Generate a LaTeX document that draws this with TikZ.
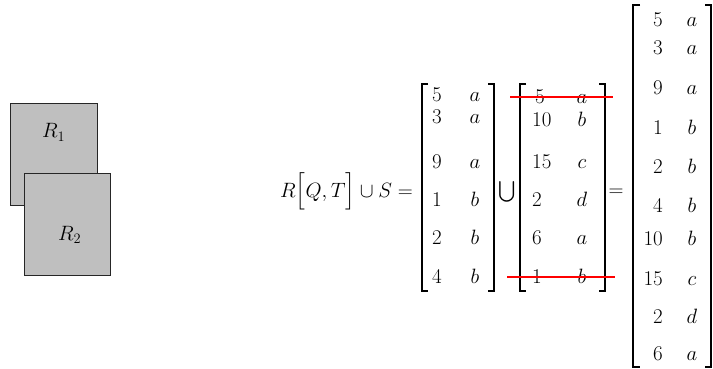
\documentclass[tikz,border=0pt]{standalone}
\usepackage{amsmath}
\begin{document}
\begin{tikzpicture}[x=1pt,y=-1pt,
  ent/.style={inner sep=0pt,anchor=base,font=\fontsize{21}{21}\selectfont},
  numw/.style={ent,anchor=base west},
  nume/.style={ent,anchor=base east},
  brk/.style={line width=1.1pt,black},
  strike/.style={red,line width=1.2pt},
  relbox/.style={draw=black!85,line width=1pt,fill=black!25,inner sep=0pt,anchor=north west}]
\useasboundingbox (0,0) rectangle (713,369);

% relation rectangles
\node[relbox,minimum width=87pt,minimum height=102pt] (r1) at (10,103) {};
\node[ent,anchor=base west] (r1l) at (42,138) {$R_1$};
\node[relbox,minimum width=86pt,minimum height=102pt] (r2) at (24,173) {};
\node[ent,anchor=base west] (r2l) at (58,240) {$R_2$};

% expression
\node[ent,anchor=base east] (expr) at (413,197) {$R\Bigl[Q,T\Bigr]\cup S=$};

% first matrix
\draw[brk] (428,84) -| (422,291) -- (428,291);
\draw[brk] (488,84) -| (494,291) -- (488,291);
\node[numw] (a1) at (432,102) {5};   \node[ent] (b1) at (475,102) {$a$};
\node[numw] (a2) at (432,124) {3};   \node[ent] (b2) at (475,124) {$a$};
\node[numw] (a3) at (432,168) {9};   \node[ent] (b3) at (475,168) {$a$};
\node[numw] (a4) at (432,206) {1};   \node[ent] (b4) at (475,206) {$b$};
\node[numw] (a5) at (432,244) {2};   \node[ent] (b5) at (475,244) {$b$};
\node[numw] (a6) at (432,283) {4};   \node[ent] (b6) at (475,283) {$b$};

% union
\node[ent,anchor=center] (un) at (507,192) {$\bigcup$};

% second matrix
\draw[brk] (526,84) -| (520,291) -- (526,291);
\draw[brk] (599,84) -| (605,291) -- (599,291);
\node[numw] (c1) at (535,103) {5};   \node[ent] (d1) at (582,103) {$a$};
\node[numw] (c2) at (532,127) {10};  \node[ent] (d2) at (582,127) {$b$};
\node[numw] (c3) at (532,168) {15};  \node[ent] (d3) at (582,168) {$c$};
\node[numw] (c4) at (532,206) {2};   \node[ent] (d4) at (582,206) {$d$};
\node[numw] (c5) at (532,244) {6};   \node[ent] (d5) at (582,244) {$a$};
\node[numw] (c6) at (532,283) {1};   \node[ent] (d6) at (582,283) {$b$};
\coordinate (s1a) at (510,97);  \coordinate (s1b) at (613,97);
\coordinate (s2a) at (507,277); \coordinate (s2b) at (615,277);
\draw[strike] (s1a) -- (s1b);
\draw[strike] (s2a) -- (s2b);

% equals
\node[ent,anchor=center] (eq) at (616,193) {$=$};

% result matrix
\draw[brk] (640,5) -| (633,367) -- (640,367);
\draw[brk] (705,5) -| (711,367) -- (705,367);
\node[nume] (e1) at (663,27) {5};    \node[ent] (f1) at (692,27) {$a$};
\node[nume] (e2) at (663,55) {3};    \node[ent] (f2) at (692,55) {$a$};
\node[nume] (e3) at (663,95) {9};    \node[ent] (f3) at (692,95) {$a$};
\node[nume] (e4) at (663,135) {1};   \node[ent] (f4) at (692,135) {$b$};
\node[nume] (e5) at (663,173) {2};   \node[ent] (f5) at (692,173) {$b$};
\node[nume] (e6) at (663,212) {4};   \node[ent] (f6) at (692,212) {$b$};
\node[nume] (e7) at (663,245) {10};  \node[ent] (f7) at (692,245) {$b$};
\node[nume] (e8) at (663,285) {15};  \node[ent] (f8) at (692,285) {$c$};
\node[nume] (e9) at (663,323) {2};   \node[ent] (f9) at (692,323) {$d$};
\node[nume] (e10) at (663,360) {6};  \node[ent] (f10) at (692,360) {$a$};
\end{tikzpicture}
\end{document}
